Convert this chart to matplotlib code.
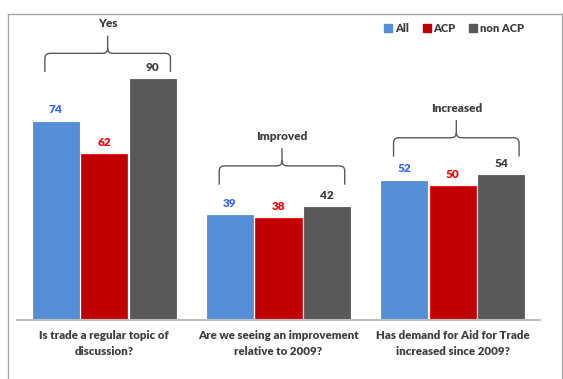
import matplotlib
matplotlib.use("Agg")
import matplotlib.pyplot as plt
import numpy as np
from matplotlib.path import Path
from matplotlib.patches import PathPatch
from matplotlib.lines import Line2D

plt.rcParams['font.family'] = ['Lato', 'DejaVu Sans']

categories = ["Is trade a regular topic of\ndiscussion?",
              "Are we seeing an improvement\nrelative to 2009?",
              "Has demand for Aid for Trade\nincreased since 2009?"]
series_names = ["All", "ACP", "non ACP"]
all_vals = [74, 39, 52]
acp_vals = [62, 38, 50]
nonacp_vals = [90, 42, 54]
bracket_labels = ["Yes", "Improved", "Increased"]
bracket_base = [92.5, 50.5, 61.0]

bar_colors = ["#558ED5", "#C00000", "#595959"]
label_colors = ["#3366FF", "#FF0000", "#404040"]
edge_colors = ["#558ED5", "#FF0000", "#595959"]

W, H = 563, 379
fig = plt.figure(figsize=(W / 100, H / 100), dpi=100)
ax = fig.add_axes([17 / W, 1 - 320 / H, (540 - 17) / W, (320 - 14) / H])

x = np.arange(len(categories))
width = 0.264
offset = 0.279
series = [all_vals, acp_vals, nonacp_vals]
for i, vals in enumerate(series):
    xs = x + (i - 1) * offset
    ax.bar(xs, vals, width=width, color=bar_colors[i], edgecolor=edge_colors[i],
           linewidth=0.6, zorder=2, label=series_names[i])
    for xx, v in zip(xs, vals):
        ax.annotate(f"{v}", (xx, v), xytext=(0, 4.5), textcoords="offset points",
                    ha="center", va="bottom", fontsize=8.5, fontweight="heavy",
                    color=label_colors[i])

ax.set_xlim(-0.5, 2.5)
ax.set_ylim(0, (320 - 14) / 2.68)
for s in ["top", "right", "left"]:
    ax.spines[s].set_visible(False)
ax.spines["bottom"].set_color("#BFBFBF")
ax.spines["bottom"].set_linewidth(1.5)
ax.set_yticks([])
ax.set_xticks(x)
ax.set_xticklabels(categories, fontsize=8.3, fontweight="heavy", color="#404040",
                   linespacing=1.55)
ax.tick_params(axis="x", length=0, pad=7.5)

# brackets
half = 0.36
rx, ry = 0.03, 1.9
h1, h2 = 7.0, 6.6
for xc0, base, lab in zip(x, bracket_base, bracket_labels):
    xc = xc0 + 0.02
    xl, xr = xc - half, xc + half
    y0, y1 = base, base + h1
    y2 = y1 + h2
    verts = [(xl, y0), (xl, y1 - ry), (xl, y1), (xl + rx, y1),
             (xc - rx, y1), (xc, y1), (xc, y1 + ry), (xc, y2),
             (xc, y1 + ry), (xc, y1), (xc + rx, y1),
             (xr - rx, y1), (xr, y1), (xr, y1 - ry), (xr, y0)]
    codes = [Path.MOVETO, Path.LINETO, Path.CURVE3, Path.CURVE3,
             Path.LINETO, Path.CURVE3, Path.CURVE3, Path.LINETO,
             Path.MOVETO, Path.CURVE3, Path.CURVE3,
             Path.LINETO, Path.CURVE3, Path.CURVE3, Path.LINETO]
    ax.add_patch(PathPatch(Path(verts, codes), facecolor="none",
                           edgecolor="#595959", linewidth=1.0, clip_on=False))
    ax.annotate(lab, (xc, y2), xytext=(0, 4.5), textcoords="offset points",
                ha="center", va="bottom", fontsize=8.5, fontweight="heavy",
                color="#404040", annotation_clip=False)

handles = [Line2D([], [], marker="s", linestyle="none", markersize=6,
                  markerfacecolor=c, markeredgecolor=c) for c in bar_colors]
leg = fig.legend(handles, series_names, loc="center",
                 bbox_to_anchor=(454 / W, 1 - 28 / H), ncol=3, frameon=False,
                 handletextpad=0.2, columnspacing=1.2, handlelength=0.8,
                 prop={"size": 8, "weight": "heavy"})
for t in leg.get_texts():
    t.set_color("#404040")

# outer border
fig.add_artist(Line2D([8 / W, 8 / W], [0, 1 - 14 / H], transform=fig.transFigure,
                      color="#A6A6A6", linewidth=1.0))
fig.add_artist(Line2D([8 / W, 562 / W], [1 - 14 / H, 1 - 14 / H],
                      transform=fig.transFigure, color="#A6A6A6", linewidth=1.0))
fig.add_artist(Line2D([562 / W, 562 / W], [0, 1 - 14 / H], transform=fig.transFigure,
                      color="#A6A6A6", linewidth=1.0))

fig.savefig("out.png", dpi=100)
